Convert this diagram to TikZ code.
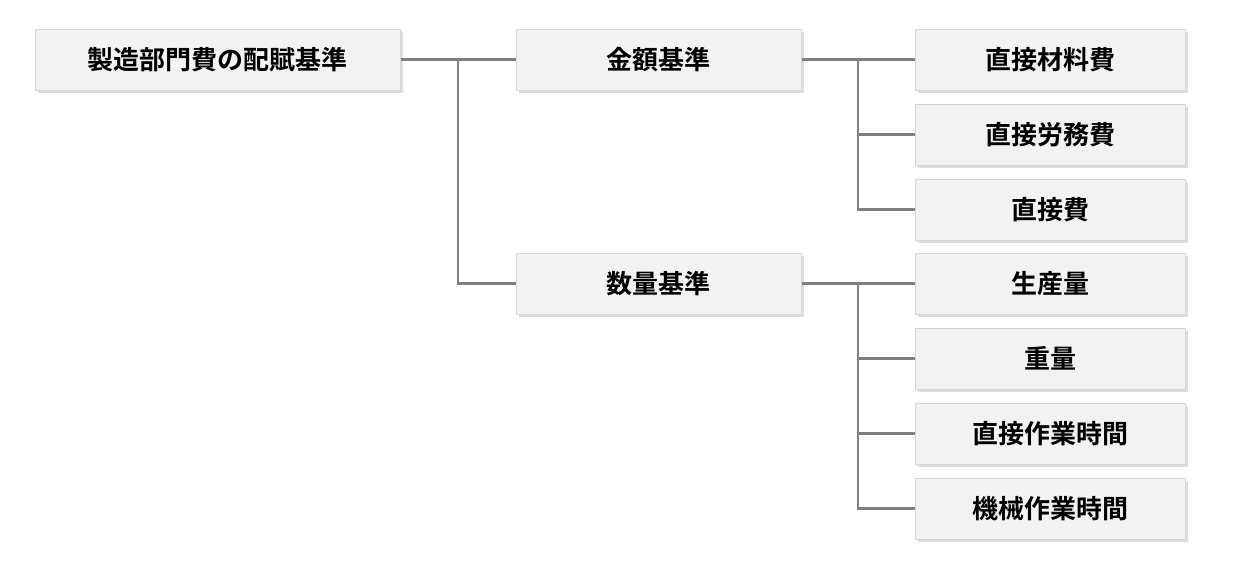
\documentclass[tikz,border=0pt]{standalone}
\usepackage{fontspec}
\newfontfamily\jp{Noto Sans CJK JP Bold}
\usetikzlibrary{shadows}
\definecolor{boxfill}{HTML}{F2F2F2}
\definecolor{boxline}{HTML}{D6D6D6}
\definecolor{conn}{HTML}{808080}
\definecolor{shad}{HTML}{DDDDDD}
\begin{document}
\begin{tikzpicture}[x=1pt,y=-1pt,
  box/.style={draw=boxline, line width=1pt, fill=boxfill, minimum height=61pt, inner sep=0pt,
    font=\jp\fontsize{26}{30}\selectfont, text=black,
    drop shadow={shadow xshift=3pt, shadow yshift=-3pt, fill=shad, opacity=1}},
  rootbox/.style={box, minimum width=365pt},
  midbox/.style={box, minimum width=285pt},
  leafbox/.style={box, minimum width=270pt},
  link/.style={draw=conn, line width=2.8pt}]
\useasboundingbox (0,0) rectangle (1250,570);
\node[rootbox] (root) at (217.5,59.5) {製造部門費の配賦基準};
\node[midbox] (kin) at (658.5,59.5) {金額基準};
\node[midbox] (suu) at (658.5,283.5) {数量基準};
\node[leafbox] (l1) at (1050,59.5) {直接材料費};
\node[leafbox] (l2) at (1050,134.5) {直接労務費};
\node[leafbox] (l3) at (1050,209.5) {直接費};
\node[leafbox] (l4) at (1050,283.5) {生産量};
\node[leafbox] (l5) at (1050,358.5) {重量};
\node[leafbox] (l6) at (1050,433.5) {直接作業時間};
\node[leafbox] (l7) at (1050,508.5) {機械作業時間};
\coordinate (j0) at (458,59.5);
\coordinate (j1) at (858,59.5);
\coordinate (j2) at (858,283.5);
\draw[link] (root.east) -- (kin.west);
\draw[link] (j0) |- (suu.west);
\draw[link] (kin.east) -- (l1.west);
\draw[link] (j1) |- (l2.west);
\draw[link] (j1) |- (l3.west);
\draw[link] (suu.east) -- (l4.west);
\draw[link] (j2) |- (l5.west);
\draw[link] (j2) |- (l6.west);
\draw[link] (j2) |- (l7.west);
\end{tikzpicture}
\end{document}
